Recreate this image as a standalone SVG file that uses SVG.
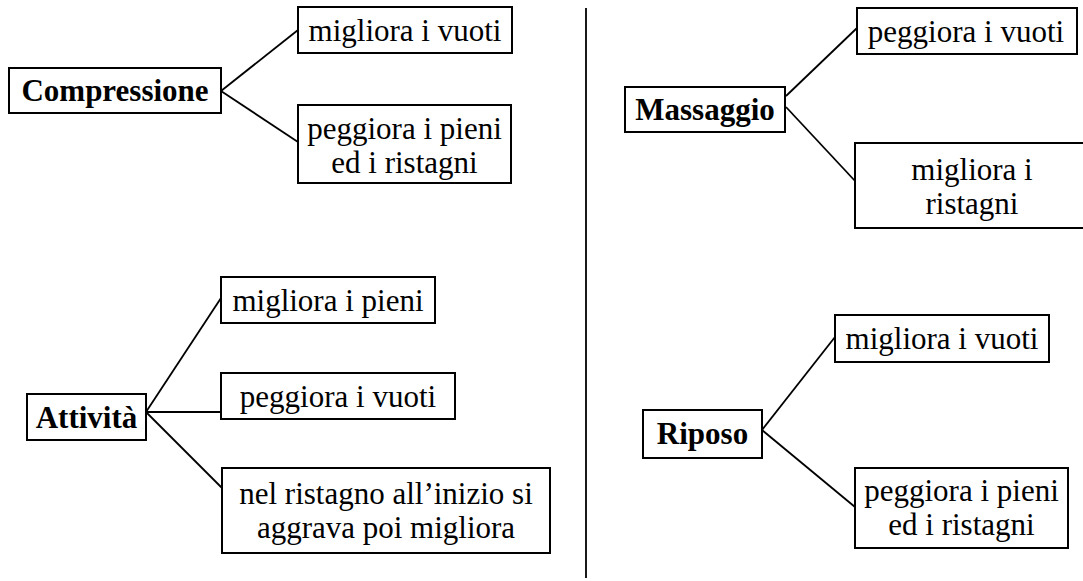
<svg xmlns="http://www.w3.org/2000/svg" width="1083" height="581" viewBox="0 0 1083 581">
<style>
.box{fill:#fff;stroke:#000;stroke-width:2}
.t{font-family:"Liberation Serif","Times New Roman",serif;font-size:31px;fill:#000;text-anchor:middle}
.b{font-weight:bold}
.c{stroke:#000;stroke-width:1.8;fill:none}
</style>
<rect width="1083" height="581" fill="#fff"/>
<g id="connectors">
<line class="c" x1="586" y1="8" x2="586" y2="578"/>
<line class="c" x1="221" y1="91" x2="298" y2="30"/>
<line class="c" x1="221" y1="91" x2="298" y2="142"/>
<line class="c" x1="146" y1="412" x2="221" y2="298"/>
<line class="c" x1="146" y1="412" x2="221" y2="412"/>
<line class="c" x1="146" y1="412" x2="222" y2="488"/>
<line class="c" x1="786" y1="96" x2="857" y2="28"/>
<line class="c" x1="786" y1="107" x2="856" y2="182"/>
<line class="c" x1="762" y1="430" x2="835" y2="337"/>
<line class="c" x1="762" y1="430" x2="855" y2="507"/>
</g>
<g id="compressione">
<rect class="box" x="9" y="68" width="212" height="45"/>
<text class="t b" x="115" y="101">Compressione</text>
</g>
<g id="comp-vuoti">
<rect class="box" x="298" y="7" width="214" height="46"/>
<text class="t" x="405" y="41">migliora i vuoti</text>
</g>
<g id="comp-pieni">
<rect class="box" x="298" y="105" width="213" height="78"/>
<text class="t" x="404.5" y="139">peggiora i pieni</text>
<text class="t" x="404.5" y="173">ed i ristagni</text>
</g>
<g id="attivita">
<rect class="box" x="27" y="394" width="119" height="46"/>
<text class="t b" x="86.5" y="428">Attività</text>
</g>
<g id="att-pieni">
<rect class="box" x="221" y="277" width="214" height="46"/>
<text class="t" x="328" y="311">migliora i pieni</text>
</g>
<g id="att-vuoti">
<rect class="box" x="221" y="373" width="234" height="46"/>
<text class="t" x="338" y="407">peggiora i vuoti</text>
</g>
<g id="att-ristagno">
<rect class="box" x="222" y="468" width="328" height="85"/>
<text class="t" x="386" y="504">nel ristagno all’inizio si</text>
<text class="t" x="386" y="538">aggrava poi migliora</text>
</g>
<g id="massaggio">
<rect class="box" x="625" y="87" width="160" height="45"/>
<text class="t b" x="705" y="120">Massaggio</text>
</g>
<g id="mass-vuoti">
<rect class="box" x="857" y="8" width="220" height="46"/>
<text class="t" x="966" y="42">peggiora i vuoti</text>
</g>
<g id="mass-ristagni">
<rect class="box" x="855" y="143" width="240" height="85"/>
<text class="t" x="972" y="180">migliora i</text>
<text class="t" x="972" y="214">ristagni</text>
</g>
<g id="riposo">
<rect class="box" x="643" y="410" width="119" height="48"/>
<text class="t b" x="702.5" y="444">Riposo</text>
</g>
<g id="rip-vuoti">
<rect class="box" x="835" y="315" width="214" height="47"/>
<text class="t" x="942" y="349">migliora i vuoti</text>
</g>
<g id="rip-pieni">
<rect class="box" x="855" y="468" width="213" height="80"/>
<text class="t" x="961.5" y="501">peggiora i pieni</text>
<text class="t" x="961.5" y="535">ed i ristagni</text>
</g>
</svg>
